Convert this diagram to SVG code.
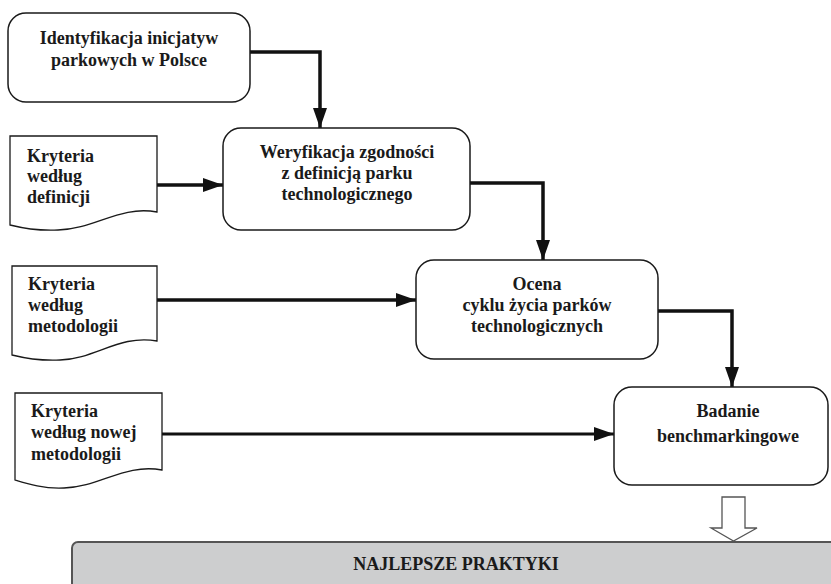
<svg xmlns="http://www.w3.org/2000/svg" width="831" height="584" viewBox="0 0 831 584">
<style>
.box{fill:#fff;stroke:#1a1a1a;stroke-width:1.5}
.doc{fill:#fff;stroke:#1a1a1a;stroke-width:1.3}
.t{font-family:"Liberation Serif","Times New Roman",serif;font-weight:bold;font-size:18px;fill:#1a1a1a}
.c{text-anchor:middle}
.conn{fill:none;stroke:#111;stroke-width:3.5;marker-end:url(#ah)}
</style>
<defs>
<marker id="ah" markerUnits="userSpaceOnUse" markerWidth="22" markerHeight="16" refX="20" refY="7" orient="auto">
<path d="M0,0 L20,7 L0,14 Z" fill="#111"/>
</marker>
</defs>
<rect width="831" height="584" fill="#fff"/>

<g id="connectors">
<path class="conn" d="M250,52 H320 V128"/>
<path class="conn" d="M157,185 H223"/>
<path class="conn" d="M470,183 H543 V260"/>
<path class="conn" d="M157,300 H416"/>
<path class="conn" d="M658,311 H732 V387"/>
<path class="conn" style="stroke-width:2.8" d="M162,434 H614"/>
<polygon points="722,497 745,497 745,528 757,528 733.5,541 711,528 722,528" fill="#fff" stroke="#555" stroke-width="1.3"/>
</g>

<g id="identyfikacja">
<rect class="box" x="8" y="13" width="242" height="89" rx="18"/>
<text class="t c" x="129" y="44">Identyfikacja inicjatyw</text>
<text class="t c" x="129" y="66">parkowych w Polsce</text>
</g>

<g id="weryfikacja">
<rect class="box" x="223" y="128" width="247" height="102" rx="18"/>
<text class="t c" x="347" y="158">Weryfikacja zgodności</text>
<text class="t c" x="347" y="179">z definicją parku</text>
<text class="t c" x="347" y="200">technologicznego</text>
</g>

<g id="kryteria-definicji">
<path class="doc" d="M10,136 H157 V212 C120,205 95,229 58,230 C38,231 22,228 10,225 Z"/>
<text class="t" x="27" y="162">Kryteria</text>
<text class="t" x="27" y="182">według</text>
<text class="t" x="27" y="203">definicji</text>
</g>

<g id="ocena">
<rect class="box" x="416" y="260" width="242" height="99" rx="18"/>
<text class="t c" x="537" y="290">Ocena</text>
<text class="t c" x="537" y="311">cyklu życia parków</text>
<text class="t c" x="537" y="332">technologicznych</text>
</g>

<g id="kryteria-metodologii">
<path class="doc" d="M12,266 H157 V341 C120,334 95,359 60,360 C40,361 24,358 12,355 Z"/>
<text class="t" x="28" y="290">Kryteria</text>
<text class="t" x="28" y="311">według</text>
<text class="t" x="28" y="332">metodologii</text>
</g>

<g id="badanie">
<rect class="box" x="614" y="387" width="214" height="98" rx="18"/>
<text class="t c" x="728" y="417">Badanie</text>
<text class="t c" x="728" y="442">benchmarkingowe</text>
</g>

<g id="kryteria-nowej">
<path class="doc" d="M15,393 H162 V470 C125,463 100,487 64,488 C44,489 28,484 15,480 Z"/>
<text class="t" x="31" y="417">Kryteria</text>
<text class="t" x="31" y="438">według nowej</text>
<text class="t" x="31" y="460">metodologii</text>
</g>

<g id="najlepsze-praktyki">
<rect x="72" y="542" width="780" height="60" rx="6" fill="#cdcecf" stroke="#555" stroke-width="2"/>
<text class="t c" x="456" y="570">NAJLEPSZE PRAKTYKI</text>
</g>
</svg>
